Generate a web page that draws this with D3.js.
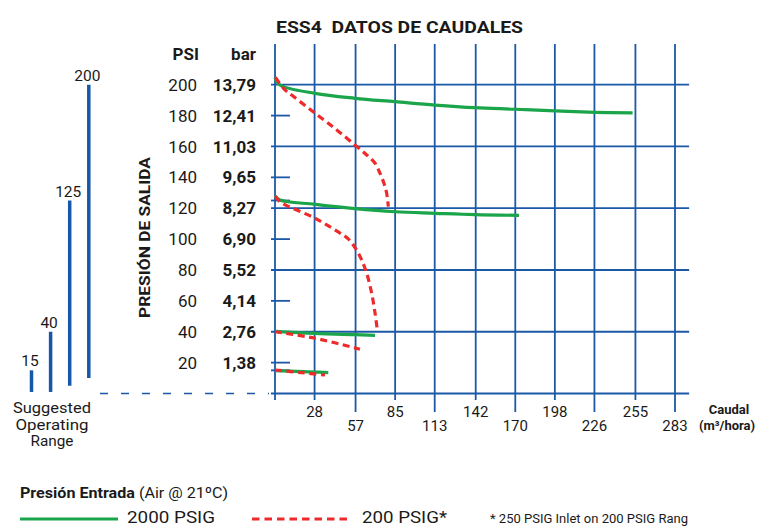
<!DOCTYPE html>
<html>
<head>
<meta charset="utf-8">
<script src="https://cdn.jsdelivr.net/npm/d3@7"></script>
<style>
    body { margin: 0; background: #fff; }
    text { font-family: Roboto, "DejaVu Sans", sans-serif; fill: #1a1a1a; }
</style>
</head>
<body>
<script>
// chart values
const flowTicks = [0, 28, 57, 85, 113, 142, 170, 198, 226, 255, 283];
const psiTicks = [20, 40, 60, 80, 100, 120, 140, 160, 180, 200];
const barLabels = ["1,38", "2,76", "4,14", "5,52", "6,90", "8,27", "9,65", "11,03", "12,41", "13,79"];
const minorPsi = [15, 125];
const rangeValues = [15, 40, 125, 200];
const rangeLabel = ["Suggested", "Operating", "Range"];

// 2000 PSIG inlet curves [flow m3/h, psi]
const green200 = [[0, 204.5], [3.5, 199.8], [28.3, 194.4], [56.6, 191.2], [84.9, 189], [113.2, 186.8],
    [141.5, 185.1], [169.8, 184.1], [198.1, 183], [226.4, 182.1], [253, 181.7]];
const green120 = [[0, 128], [3.5, 125.3], [28.3, 122.5], [56.6, 119.7], [84.9, 117.7], [113.2, 116.7],
    [141.5, 115.8], [172.6, 115.4]];
const green40 = [[0, 40.2], [28.3, 38.9], [56.6, 38.1], [70.8, 37.7]];
const green15 = [[0, 14.8], [28.3, 13.9], [37.7, 13.5]];

// 200 PSIG inlet curves
const red200 = [[0.3, 204.7], [7.1, 196.6], [12.9, 192.5], [28.3, 181.5], [43.7, 170.7], [56.6, 160.9],
    [64.9, 154.5], [70.8, 149.1], [74.3, 142.6], [77.1, 136.1], [79, 129.7], [80.2, 121]];
const red120 = [[0.3, 127.9], [3.5, 124.2], [28.3, 113.5], [45, 104.5], [52, 100], [57.3, 93.5],
    [61.3, 86.5], [64.9, 77.8], [68.4, 64.9], [70.8, 51.9], [72.4, 41.1]];
const red40 = [[0, 40], [28.3, 35.8], [60.1, 28.7]];
const red15 = [[0, 15.2], [18.9, 13.5], [35.4, 12]];

const BLUE = "#1b59a6";
const GREEN = "#1aa54b";
const RED = "#ee2a2a";

const svg = d3.select("body")
    .append("svg")
    .attr("width", 762)
    .attr("height", 527)
    .style("background-color", "#fff");

const x = d3.scaleLinear().domain([0, 283]).range([275, 675]);
const y = d3.scaleLinear().domain([0, 200]).range([393.5, 84.7]);

// title
svg.append("text")
    .attr("x", 276).attr("y", 33)
    .attr("font-size", 17).attr("font-weight", "bold")
    .attr("xml:space", "preserve")
    .attr("textLength", 247)
    .attr("lengthAdjust", "spacingAndGlyphs")
    .text("ESS4  DATOS DE CAUDALES");

// grid
const grid = svg.append("g").attr("stroke", BLUE).attr("stroke-width", 1.8);

grid.selectAll("line.v")
    .data(flowTicks)
    .enter()
    .append("line")
    .attr("x1", d => x(d)).attr("x2", d => x(d))
    .attr("y1", y(226.4))
    .attr("y2", (d, i) => (i % 2 === 0 && i > 0) ? 412 : 400);

grid.selectAll("line.h")
    .data([0].concat(psiTicks.filter(d => d % 40 === 0)))
    .enter()
    .append("line")
    .attr("x1", x(0) - 4).attr("x2", x(293))
    .attr("y1", d => y(d)).attr("y2", d => y(d));

grid.selectAll("line.t")
    .data(psiTicks.filter(d => d % 40 !== 0).concat(minorPsi))
    .enter()
    .append("line")
    .attr("x1", x(0) - 4).attr("x2", x(0) + 15)
    .attr("y1", d => y(d)).attr("y2", d => y(d));

// dashed baseline to the left
svg.append("line")
    .attr("x1", 100).attr("x2", x(0) - 6)
    .attr("y1", y(0)).attr("y2", y(0))
    .attr("stroke", BLUE).attr("stroke-width", 1.5)
    .attr("stroke-dasharray", "8,13");

// x tick labels, staggered
svg.selectAll("text.xt")
    .data(flowTicks.slice(1))
    .enter()
    .append("text")
    .attr("x", d => x(d))
    .attr("y", (d, i) => i % 2 === 0 ? 417 : 431)
    .attr("text-anchor", "middle")
    .attr("font-size", 15)
    .text(d => d);

svg.append("text")
    .attr("x", 729).attr("y", 414)
    .attr("text-anchor", "middle")
    .attr("font-size", 13).attr("font-weight", "bold")
    .text("Caudal");
svg.append("text")
    .attr("x", 727).attr("y", 430)
    .attr("text-anchor", "middle")
    .attr("font-size", 13).attr("font-weight", "bold")
    .text("(m³/hora)");

// y labels
svg.append("text")
    .attr("x", 199).attr("y", 60)
    .attr("text-anchor", "end")
    .attr("font-size", 17).attr("font-weight", "bold")
    .text("PSI");
svg.append("text")
    .attr("x", 256).attr("y", 60)
    .attr("text-anchor", "end")
    .attr("font-size", 17).attr("font-weight", "bold")
    .text("bar");

svg.selectAll("text.psi")
    .data(psiTicks)
    .enter()
    .append("text")
    .attr("x", 197)
    .attr("y", d => y(d))
    .attr("dy", "0.36em")
    .attr("text-anchor", "end")
    .attr("font-size", 17)
    .text(d => d);

svg.selectAll("text.bar")
    .data(psiTicks)
    .enter()
    .append("text")
    .attr("x", 256)
    .attr("y", d => y(d))
    .attr("dy", "0.36em")
    .attr("text-anchor", "end")
    .attr("font-size", 17).attr("font-weight", "bold")
    .text((d, i) => barLabels[i]);

svg.append("text")
    .attr("transform", "translate(150,318) rotate(-90)")
    .attr("font-size", 15.5).attr("font-weight", "bold")
    .attr("textLength", 161)
    .attr("lengthAdjust", "spacingAndGlyphs")
    .text("PRESIÓN DE SALIDA");

// suggested operating range bars
const rx = d3.scalePoint().domain(rangeValues).range([31.5, 88.8]);
const barBottoms = [1, 1, 5, 10]; // psi lift of each bar's foot

svg.selectAll("line.range")
    .data(rangeValues)
    .enter()
    .append("line")
    .attr("x1", d => rx(d)).attr("x2", d => rx(d))
    .attr("y1", d => y(d))
    .attr("y2", (d, i) => y(barBottoms[i]))
    .attr("stroke", "#1757a8")
    .attr("stroke-width", 3.5);

svg.selectAll("text.range")
    .data(rangeValues)
    .enter()
    .append("text")
    .attr("x", d => rx(d) - 1.5)
    .attr("y", d => y(d) - 4)
    .attr("text-anchor", "middle")
    .attr("font-size", 15.5)
    .text(d => d);

const rangeWidths = [78, 73, 43];
svg.selectAll("text.rl")
    .data(rangeLabel)
    .enter()
    .append("text")
    .attr("x", (d, i) => 52 - rangeWidths[i] / 2)
    .attr("y", (d, i) => 413 + i * 16.5)
    .attr("font-size", 14)
    .attr("textLength", (d, i) => rangeWidths[i])
    .attr("lengthAdjust", "spacingAndGlyphs")
    .text(d => d);

// curves
const smooth = d3.line()
    .x(d => x(d[0]))
    .y(d => y(d[1]))
    .curve(d3.curveCatmullRom.alpha(0.5));

[green200, green120, green40, green15].forEach(function (series) {
    svg.append("path")
        .datum(series)
        .attr("fill", "none")
        .attr("stroke", GREEN)
        .attr("stroke-width", 3.2)
        .attr("d", smooth);
});

[red200, red120, red40, red15].forEach(function (series) {
    svg.append("path")
        .datum(series)
        .attr("fill", "none")
        .attr("stroke", RED)
        .attr("stroke-width", 3.2)
        .attr("stroke-dasharray", "7,4.5")
        .attr("d", smooth);
});

// legend
const legendTitle = svg.append("text")
    .attr("x", 20).attr("y", 498)
    .attr("font-size", 15)
    .attr("textLength", 208)
    .attr("lengthAdjust", "spacingAndGlyphs");
legendTitle.append("tspan").attr("font-weight", "bold").text("Presión Entrada ");
legendTitle.append("tspan").text("(Air @ 21ºC)");

svg.append("line")
    .attr("x1", 20).attr("x2", 118)
    .attr("y1", 519).attr("y2", 519)
    .attr("stroke", GREEN).attr("stroke-width", 3);
svg.append("text")
    .attr("x", 127).attr("y", 523)
    .attr("font-size", 16)
    .attr("textLength", 88)
    .attr("lengthAdjust", "spacingAndGlyphs")
    .text("2000 PSIG");

svg.append("line")
    .attr("x1", 252).attr("x2", 350)
    .attr("y1", 519).attr("y2", 519)
    .attr("stroke", RED).attr("stroke-width", 3)
    .attr("stroke-dasharray", "7.5,5");
svg.append("text")
    .attr("x", 362).attr("y", 523)
    .attr("font-size", 16)
    .attr("textLength", 85)
    .attr("lengthAdjust", "spacingAndGlyphs")
    .text("200 PSIG*");

svg.append("text")
    .attr("x", 490).attr("y", 523)
    .attr("font-size", 12)
    .attr("textLength", 198)
    .attr("lengthAdjust", "spacingAndGlyphs")
    .text("* 250 PSIG Inlet on 200 PSIG Rang");
</script>
</body>
</html>
